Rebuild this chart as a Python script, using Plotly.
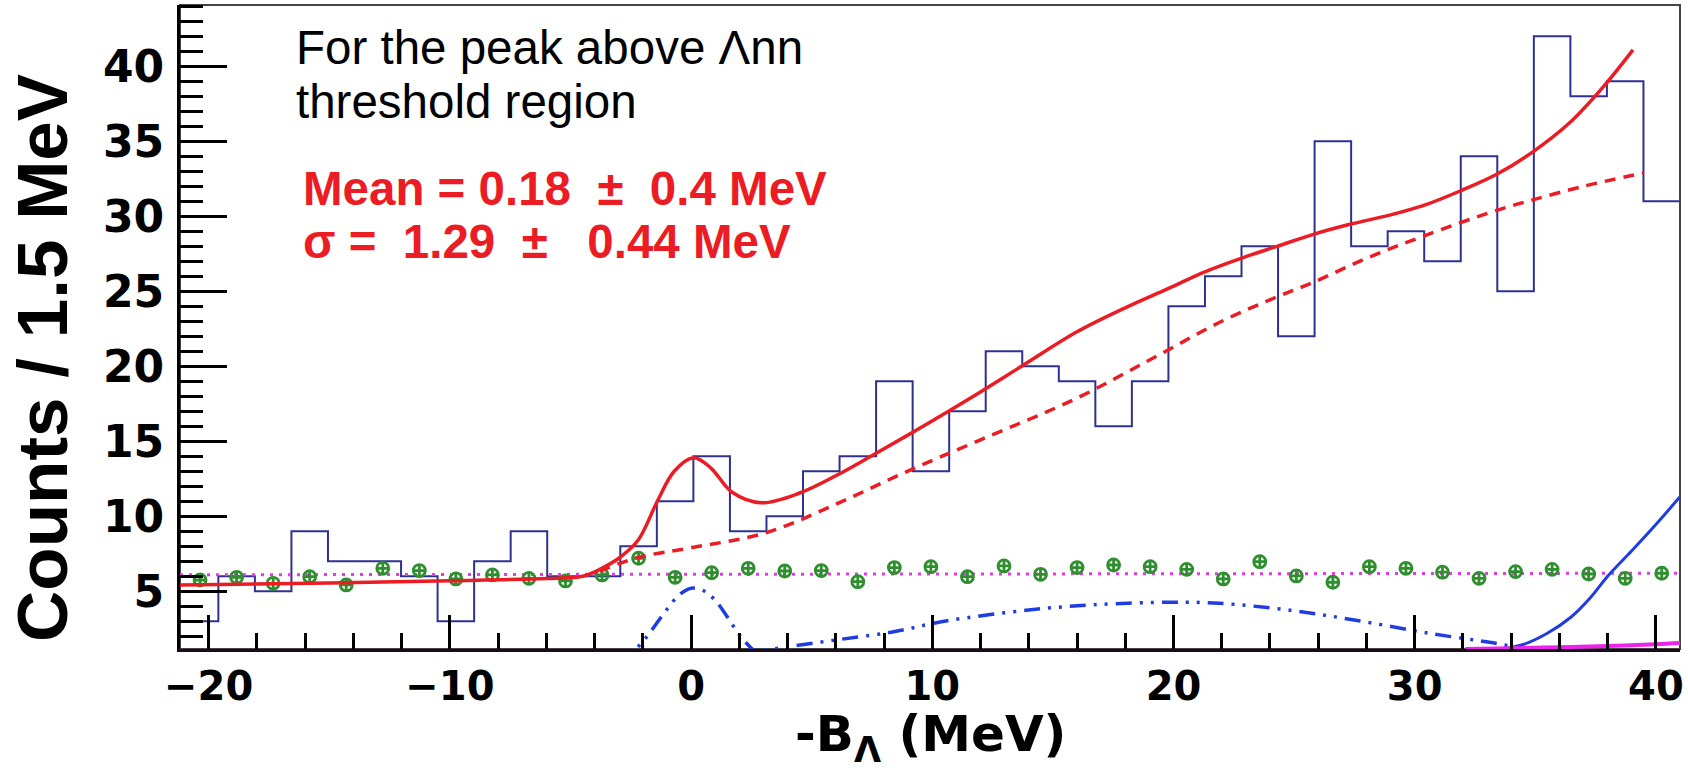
import plotly.graph_objects as go

# ---------------- data ----------------
COUNTS = [3, 6, 5, 9, 7, 7, 6, 3, 7, 9, 6, 6, 8, 11, 14, 9, 10, 13, 14, 19, 13,
          17, 21, 20, 19, 16, 19, 24, 26, 28, 22, 35, 28, 29, 27, 34, 25, 42, 38,
          39, 31]
FIRST_EDGE = -21.115
BIN_WIDTH = 1.515

GREEN_Y = [5.75, 5.93, 5.53, 5.97, 5.42, 6.53, 6.38, 5.82, 6.09, 5.86, 5.69, 6.09,
           7.2, 5.93, 6.24, 6.53, 6.35, 6.38, 5.64, 6.58, 6.64, 5.97, 6.69, 6.13,
           6.58, 6.75, 6.64, 6.46, 5.82, 6.97, 6.02, 5.6, 6.64, 6.53, 6.27, 5.86,
           6.31, 6.46, 6.15, 5.86, 6.2]

FIT_X = [-21.19, -15, -10, -6, -4.5, -3.8, -3.0, -2.2, -1.4, -0.7, 0.1, 0.8, 1.7,
         2.9, 4.5, 6.0, 7.4, 9.3, 11.5, 13.7, 16.0, 18.0, 19.8, 21.3, 22.8, 24.3,
         25.8, 27.4, 29.0, 30.5, 31.9, 33.4, 34.9, 36.4, 37.8, 39.05]
FIT_Y = [5.42, 5.55, 5.7, 5.85, 6.0, 6.45, 7.2, 8.4, 11.0, 13.0, 13.9, 13.25, 11.6,
         10.9, 11.55, 12.7, 13.95, 15.7, 17.8, 20.0, 22.3, 23.9, 25.2, 26.3, 27.2,
         28.0, 28.8, 29.5, 30.1, 30.8, 31.7, 32.8, 34.3, 36.2, 38.6, 41.1]

BKG_X = [-3.8, -2.2, 0.0, 3.1, 6.0, 8.9, 12.0, 15.9, 19.1, 22.0, 24.4, 25.8, 28.0,
         30.4, 33.4, 34.9, 37.0, 39.5]
BKG_Y = [6.35, 7.25, 7.9, 8.9, 10.8, 12.95, 15.1, 17.8, 20.5, 23.0, 24.7, 25.6,
         27.2, 28.7, 30.4, 31.1, 32.0, 32.9]

FLAT_X = [-21.19, 41.0]
FLAT_Y = [6.1, 6.2]

PEAK_X = [-3.0, -2.5, -2.0, -1.5, -1.0, -0.5, 0.0, 0.5, 1.0, 1.5, 2.0, 2.5, 3.0]
PEAK_Y = [0.35, 0.85, 1.65, 2.7, 3.8, 4.75, 5.2, 5.05, 4.4, 3.3, 2.1, 1.2, 0.55]

HUMP_X = [2.5, 4.0, 6.0, 8.4, 10.5, 14.0, 16.7, 20.0, 21.9, 25.0, 27.8, 30.6, 33.1,
          34.0, 35.0, 36.0]
HUMP_Y = [0.9, 1.3, 1.75, 2.3, 3.0, 3.75, 4.1, 4.27, 4.2, 3.7, 3.0, 2.2, 1.6, 1.35,
          1.15, 1.0]

RISE_X = [33.5, 34.5, 35.5, 36.5, 37.3, 38.0, 39.0, 40.0, 41.0]
RISE_Y = [1.1, 1.45, 2.2, 3.3, 4.6, 6.0, 7.7, 9.45, 11.3]

LOW_X = [32.1, 34.0, 36.0, 38.0, 40.0, 41.0]
LOW_Y = [1.15, 1.2, 1.27, 1.35, 1.47, 1.55]

X_TICKS = [-20, -10, 0, 10, 20, 30, 40]
Y_TICKS = [5, 10, 15, 20, 25, 30, 35, 40]

# ---------------- derived ----------------
edges = [FIRST_EDGE + i * BIN_WIDTH for i in range(len(COUNTS) + 1)]
centers = [FIRST_EDGE + (i + 0.5) * BIN_WIDTH for i in range(len(COUNTS))]

RED = "#ec1c24"
NAVY = "#2e3192"
BLUE = "#1f3de0"
MAGENTA = "#e23be2"
GREEN = "#2f8f2f"

fig = go.Figure()

fig.add_trace(go.Scatter(x=edges, y=COUNTS + [COUNTS[-1]], mode="lines",
                         line=dict(color=NAVY, width=2, shape="hv"),
                         hoverinfo="skip"))
fig.add_trace(go.Scatter(x=FLAT_X, y=FLAT_Y, mode="lines",
                         line=dict(color=MAGENTA, width=3, dash="3px,6px")))
fig.add_trace(go.Scatter(x=centers, y=GREEN_Y, mode="markers",
                         marker=dict(symbol="circle-cross-open", size=12,
                                     color=GREEN, line=dict(width=2.8, color=GREEN))))
fig.add_trace(go.Scatter(x=PEAK_X, y=PEAK_Y, mode="lines",
                         line=dict(color=BLUE, width=3.5, shape="spline",
                                   dash="16px,8px,3px,8px,3px,8px")))
fig.add_trace(go.Scatter(x=HUMP_X, y=HUMP_Y, mode="lines",
                         line=dict(color=BLUE, width=3.5, shape="spline",
                                   dash="16px,8px,3px,8px,3px,8px")))
fig.add_trace(go.Scatter(x=RISE_X, y=RISE_Y, mode="lines",
                         line=dict(color=BLUE, width=3, shape="spline")))
fig.add_trace(go.Scatter(x=LOW_X, y=LOW_Y, mode="lines",
                         line=dict(color="#ee22ee", width=4, shape="spline")))
fig.add_trace(go.Scatter(x=BKG_X, y=BKG_Y, mode="lines",
                         line=dict(color=RED, width=3.5, shape="spline",
                                   dash="11px,8px")))
fig.add_trace(go.Scatter(x=FIT_X, y=FIT_Y, mode="lines",
                         line=dict(color=RED, width=3.5, shape="spline")))

fig.update_xaxes(range=[-21.19, 41.0], tickvals=X_TICKS, ticks="inside",
                 ticklen=34, tickwidth=2.5, tickcolor="black",
                 minor=dict(tick0=0, dtick=2, ticks="inside", ticklen=16,
                            tickwidth=2.5, tickcolor="black"),
                 showline=True, linecolor="#1a0a1a", linewidth=3,
                 showgrid=False, zeroline=False,
                 tickfont=dict(family="DejaVu Sans", size=40, color="black",
                               weight="bold"))
fig.update_yaxes(range=[1.15, 44.09], tickvals=Y_TICKS, ticks="inside",
                 ticklen=47, tickwidth=2.5, tickcolor="black",
                 minor=dict(tick0=0, dtick=1, ticks="inside", ticklen=23,
                            tickwidth=2.5, tickcolor="black"),
                 showline=True, linecolor="black", linewidth=3,
                 showgrid=False, zeroline=False, ticklabelstandoff=4,
                 tickfont=dict(family="DejaVu Sans", size=44, color="black",
                               weight="bold"))

NB = "\u00a0"
annotations = [
    dict(text="For the peak above Λnn", x=0.076, y=0.9345, xanchor="left",
         yanchor="middle", font=dict(family="Liberation Sans", size=47.5, color="black")),
    dict(text="threshold region", x=0.076, y=0.8500, xanchor="left",
         yanchor="middle", font=dict(family="Liberation Sans", size=47.5, color="black")),
    dict(text=f"Mean = 0.18{NB}{NB}±{NB}{NB}0.4 MeV", x=0.0805, y=0.7150,
         xanchor="left", yanchor="middle",
         font=dict(family="Liberation Sans", size=47.5, color=RED, weight="bold")),
    dict(text=f"σ ={NB}{NB}1.29{NB}{NB}±{NB}{NB}{NB}0.44 MeV", x=0.0805, y=0.6325,
         xanchor="left", yanchor="middle",
         font=dict(family="Liberation Sans", size=47.5, color=RED, weight="bold")),
    dict(text="Counts / 1.5 MeV", textangle=-90, x=-0.0913, y=0.452,
         xanchor="center", yanchor="middle",
         font=dict(family="Liberation Sans", size=71, color="black", weight="bold")),
    dict(text="-B<sub>Λ</sub> (MeV)", x=0.5, y=-0.137, xanchor="center",
         yanchor="middle",
         font=dict(family="DejaVu Sans", size=50, color="black", weight="bold")),
]
for a in annotations:
    a.update(xref="paper", yref="paper", showarrow=False)

fig.update_layout(
    width=1688, height=776,
    margin=dict(l=180, r=8, t=5, b=127),
    paper_bgcolor="white", plot_bgcolor="white",
    showlegend=False,
    annotations=annotations,
    shapes=[dict(type="rect", xref="paper", yref="paper", x0=0, x1=1, y0=0, y1=1,
                 line=dict(color="#444444", width=2), layer="below")],
)

fig.write_html("out.html")
